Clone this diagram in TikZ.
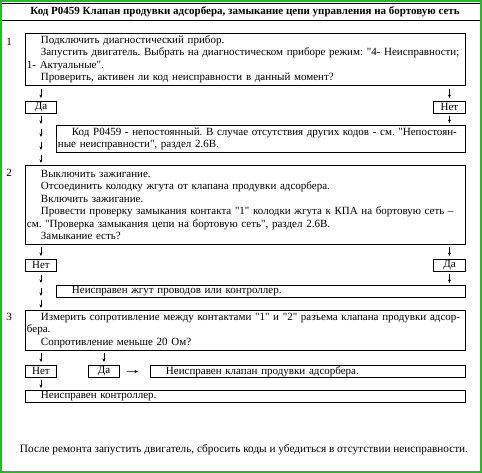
\documentclass[tikz,border=0pt]{standalone}
\usepackage{fontspec}
\setmainfont{Liberation Serif}[Ligatures=TeXOff]
\usetikzlibrary{arrows.meta,calc}
\definecolor{framegreen}{RGB}{40,185,40}
\frenchspacing
\newlength\ind
\setlength\ind{14pt}
\newcommand\jl[1]{\noindent\makebox[\linewidth][s]{#1}\par}
\newcommand\jli[1]{\noindent\makebox[\linewidth][s]{\hspace*{\ind}#1}\par}
\newcommand\il[1]{\noindent\hspace*{\ind}#1\par}
\newcommand\pl[1]{\noindent #1\par}
\begin{document}
\begin{tikzpicture}[x=1pt,y=-1pt,
  txt/.style={font=\fontsize{11}{12.5}\selectfont\frenchspacing},
  box/.style={draw, line width=0.9pt, inner xsep=1.5pt, inner ysep=1pt,
    anchor=north west, txt},
  sbox/.style={draw, line width=0.9pt, inner sep=0pt, minimum width=31pt,
    minimum height=12pt, anchor=north west, txt},
  num/.style={txt, inner sep=0pt},
  arr/.style={line width=0.5pt, -{Stealth[length=3.5pt,width=3pt]}}]
\useasboundingbox (0,0) rectangle (482,473);
\draw[framegreen, line width=2pt] (1,1) rectangle (481,472);
\coordinate (hl1) at (2,3);
\coordinate (hr1) at (480,3);
\coordinate (hl2) at (2,20);
\coordinate (hr2) at (480,20);
\draw[line width=0.9pt] (hl1) -- (hr1);
\draw[line width=0.9pt] (hl2) -- (hr2);
\node[font=\fontsize{11}{12.5}\selectfont\bfseries, inner sep=0pt] (head) at (245,12)
  {Код P0459 Клапан продувки адсорбера, замыкание цепи управления на бортовую сеть};

% step 1
\node[num] (n1lab) at (9,42) {1};
\node[box, text width=437pt, minimum height=52pt] (b1) at (25,33) {%
  \il{Подключить диагностический прибор.}%
  \jli{Запустить двигатель. Выбрать на диагностическом приборе режим: "4- Неисправности;}%
  \pl{1- Актуальные".}%
  \il{Проверить, активен ли код неисправности в данный момент?}};
\node[sbox] (d1) at (25,101) {Да};
\node[sbox, minimum width=32pt] (t1) at (433,101) {Нет};
\node[box, text width=406pt, minimum height=27pt] (bp) at (56,125) {%
  \jli{Код P0459 - непостоянный. В случае отсутствия других кодов - см. "Непостоян-}%
  \pl{ные неисправности", раздел 2.6В.}};

\draw[arr] ($(b1.south -| d1.north)+(0,3)$) -- ($(d1.north)+(0,-3)$);
\draw[arr] ($(b1.south -| t1.north)+(0,3)$) -- ($(t1.north)+(0,-3)$);
\draw[arr] ($(t1.south)+(0,2)$) -- ($(bp.north -| t1.south)+(0,-2)$);

% step 2
\node[num] (n2lab) at (9,173) {2};
\node[box, text width=437pt, minimum height=79pt] (b2) at (25,165) {%
  \il{Выключить зажигание.}%
  \il{Отсоединить колодку жгута от клапана продувки адсорбера.}%
  \il{Включить зажигание.}%
  \jli{Провести проверку замыкания контакта "1" колодки жгута к КПА на бортовую сеть –}%
  \pl{см. "Проверка замыкания цепи на бортовую сеть", раздел 2.6В.}%
  \il{Замыкание есть?}};
\foreach \o in {2,15,28,41}
  \draw[arr] ($(d1.south)+(0,\o)$) -- ($(d1.south)+(0,\o+8)$);

\node[sbox] (t2) at (25,259) {Нет};
\node[sbox, minimum width=32pt] (d2) at (433,259) {Да};
\node[box, text width=406pt, minimum height=12pt] (bn) at (56,285) {%
  \il{Неисправен жгут проводов или контроллер.}};
\draw[arr] ($(b2.south -| t2.north)+(0,2)$) -- ($(t2.north)+(0,-3)$);
\draw[arr] ($(b2.south -| d2.north)+(0,2)$) -- ($(d2.north)+(0,-3)$);
\draw[arr] ($(d2.south)+(0,2)$) -- ($(bn.north -| d2.south)+(0,-2)$);

% step 3
\node[num] (n3lab) at (9,317) {3};
\node[box, text width=437pt, minimum height=40pt] (b3) at (25,310) {%
  \jli{Измерить сопротивление между контактами "1" и "2" разъема клапана продувки адсор-}%
  \pl{бера.}%
  \il{Сопротивление меньше 20 Ом?}};
\foreach \o in {3,16,28}
  \draw[arr] ($(t2.south)+(0,\o)$) -- ($(t2.south)+(0,\o+8)$);

\node[sbox] (t3) at (25,365) {Нет};
\node[sbox] (d3) at (88,365) {Да};
\node[box, text width=312pt, minimum height=12pt] (bk) at (150,365) {%
  \il{Неисправен клапан продувки адсорбера.}};
\node[box, text width=437pt, minimum height=12pt] (bc) at (25,390) {%
  \il{Неисправен контроллер.}};
\draw[arr] ($(b3.south -| t3.north)+(0,2)$) -- ($(t3.north)+(0,-3)$);
\draw[arr] ($(b3.south -| d3.north)+(0,2)$) -- ($(d3.north)+(0,-3)$);
\draw[arr] ($(d3.east)+(7,0)$) -- ($(bk.west)+(-12,0)$);
\draw[arr] ($(t3.south)+(0,2)$) -- ($(bc.north -| t3.south)+(0,-2)$);

\node[font=\fontsize{11.25}{12.5}\selectfont\frenchspacing, inner sep=0pt] (final) at (244,450)
  {После ремонта запустить двигатель, сбросить коды и убедиться в отсутствии неисправности.};
\end{tikzpicture}
\end{document}
